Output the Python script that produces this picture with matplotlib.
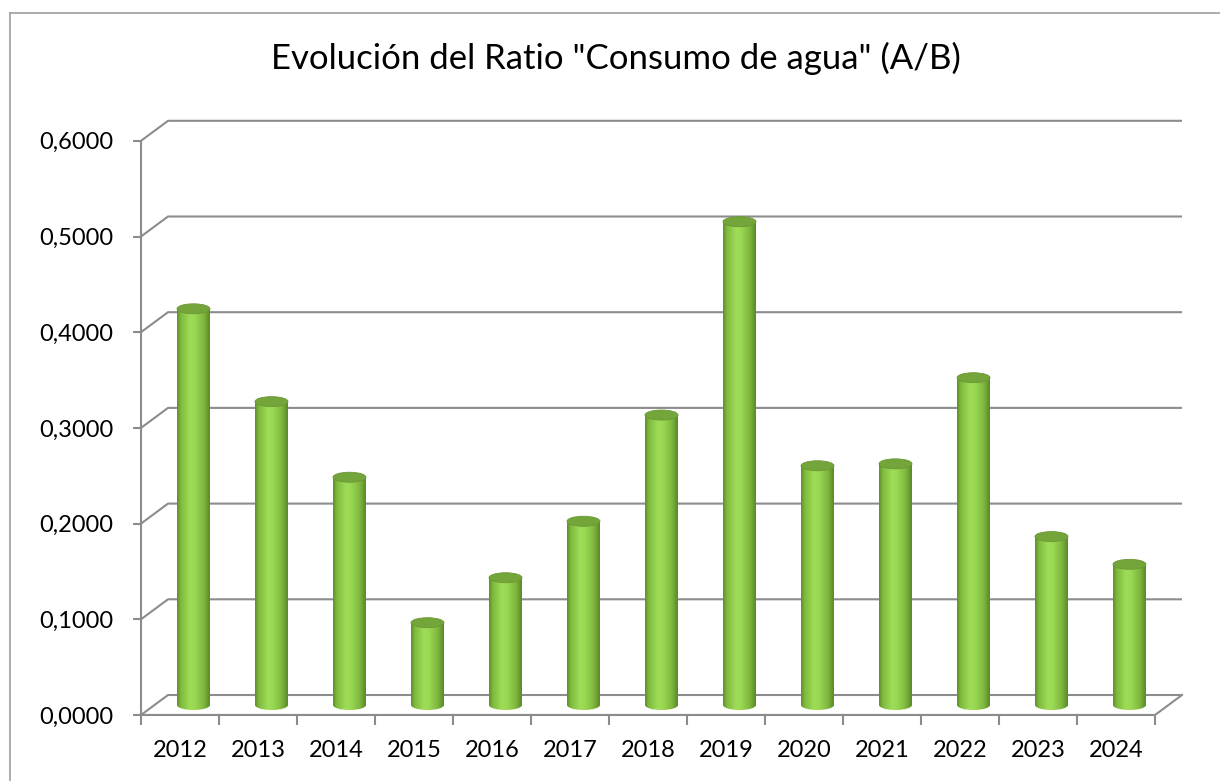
import numpy as np
import matplotlib
matplotlib.use("Agg")
import matplotlib.pyplot as plt
from matplotlib.patches import Ellipse
from matplotlib.colors import LinearSegmentedColormap
from matplotlib.ticker import FixedLocator, FuncFormatter

# data
years = ["2012", "2013", "2014", "2015", "2016", "2017", "2018",
         "2019", "2020", "2021", "2022", "2023", "2024"]
ratio = [0.414, 0.317, 0.238, 0.086, 0.133, 0.192, 0.303,
         0.505, 0.250, 0.252, 0.342, 0.176, 0.147]
y_ticks = [0.0, 0.1, 0.2, 0.3, 0.4, 0.5, 0.6]
title = 'Evolución del Ratio "Consumo de agua" (A/B)'

W, H, DPI = 1220, 781, 100
FONT = ["Lato", "DejaVu Sans"]
plt.rcParams["font.family"] = FONT

GRID = "#8c8c8c"
BORDER = "#a6a6a6"
TOP_CAP = "#74a53a"
body_cmap = LinearSegmentedColormap.from_list(
    "cyl",
    [(0.0, "#5f8f2a"), (0.12, "#80ba3e"), (0.4, "#9fdd58"),
     (0.55, "#99d853"), (0.82, "#7fb63e"), (1.0, "#5a8828")],
)

fig = plt.figure(figsize=(W / DPI, H / DPI), dpi=DPI)

# outer chart frame (only left and top edges visible in the crop)
fig.add_artist(plt.Line2D([10 / W, 10 / W], [0, 1 - 13 / H], color=BORDER, lw=1.3))
fig.add_artist(plt.Line2D([10 / W, 1], [1 - 13 / H, 1 - 13 / H], color=BORDER, lw=1.3))

# plot area: front plane of the 3d box
left_px, right_px, bot_px, top_px = 141, 1195, 715, 100
ax = fig.add_axes([left_px / W, 1 - bot_px / H,
                   (right_px - left_px) / W, (bot_px - top_px) / H])
px_per_cat = 78.0
px_per_val = 957.0
n = len(years)
ax.set_xlim(-0.5, -0.5 + (right_px - left_px) / px_per_cat)
ax.set_ylim(0, (bot_px - top_px) / px_per_val)

# depth offset of the back wall
dx = 27 / px_per_cat
dy = 20 / px_per_val
x0, x1 = -0.5, n - 0.5

# walls: gridlines on the back wall and diagonals on the side wall
for v in y_ticks:
    ax.plot([x0, x0 + dx, x1 + dx], [v, v + dy, v + dy],
            color=GRID, lw=1.5, zorder=1, solid_capstyle="butt")
# floor front edge
ax.plot([x0, x1, x1 + dx], [0, 0, dy], color=GRID, lw=1.5, zorder=1)

for s in ["top", "right"]:
    ax.spines[s].set_visible(False)
ax.spines["left"].set_bounds(0, y_ticks[-1])
ax.spines["bottom"].set_bounds(x0, x1)
for s in ["left", "bottom"]:
    ax.spines[s].set_color(GRID)
    ax.spines[s].set_linewidth(1.5)
    ax.spines[s].set_zorder(1)

ax.yaxis.set_major_locator(FixedLocator(y_ticks))
ax.yaxis.set_major_formatter(FuncFormatter(lambda v, p: f"{v:.4f}".replace(".", ",")))
ax.tick_params(axis="y", length=6, width=1.5, color=GRID, pad=14,
               labelsize=17, labelcolor="black")

xpos = np.arange(n)
ax.set_xticks(xpos)
ax.set_xticklabels(years)
ax.set_xticks(np.arange(n + 1) - 0.5, minor=True)
ax.tick_params(axis="x", which="major", length=0, pad=18,
               labelsize=17, labelcolor="black")
ax.tick_params(axis="x", which="minor", length=7, width=1.5, color=GRID)

# cylinders, placed at mid depth
bar_w = 33 / px_per_cat
cap_h = 10 / px_per_val
cx = xpos + dx / 2
base = dy / 2
bars = ax.bar(cx, ratio, width=bar_w, bottom=base, color="none",
              edgecolor="none", zorder=3)
grad = np.linspace(0, 1, 256).reshape(1, -1)
for b, v in zip(bars, ratio):
    xl = b.get_x()
    xr = xl + b.get_width()
    im = ax.imshow(grad, cmap=body_cmap, aspect="auto", zorder=3,
                   extent=(xl, xr, base, base + v), interpolation="bilinear")
    im.set_clip_path(b)
    bottom = Ellipse((xl + bar_w / 2, base), bar_w, cap_h, facecolor="none",
                     edgecolor="none", zorder=3)
    ax.add_patch(bottom)
    im2 = ax.imshow(grad, cmap=body_cmap, aspect="auto", zorder=3,
                    extent=(xl, xr, base - cap_h, base), interpolation="bilinear")
    im2.set_clip_path(bottom)
    ax.add_patch(Ellipse((xl + bar_w / 2, base + v), bar_w, cap_h,
                         facecolor=TOP_CAP, edgecolor="#6a9834", lw=0.6, zorder=4))

fig.text(616 / W, 1 - 58 / H, title, ha="center", va="center",
         fontsize=25, color="black")

fig.savefig("out.png", dpi=DPI)
